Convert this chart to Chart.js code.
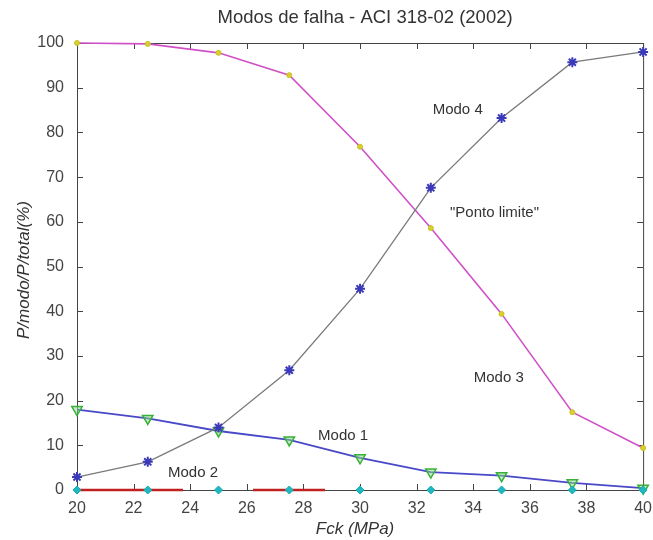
<!DOCTYPE html>
<html lang="pt">
  <head>
    <meta charset="UTF-8" />
    <title>Modos de falha - ACI 318-02 (2002)</title>
    <script src="https://cdn.jsdelivr.net/npm/chart.js"></script>
    <style>
      body {
        margin: 0;
        background: #fff;
      }
      #wrap {
        width: 653px;
        height: 540px;
      }
    </style>
  </head>
  <body>
    <div id="wrap"><canvas id="modos" width="653" height="540"></canvas></div>

    <script>
      // Fck (MPa) values
      const fck = [20, 22.5, 25, 27.5, 30, 32.5, 35, 37.5, 40];

      // P modo / P total (%)
      const modo1 = [18, 16, 13.2, 11.2, 7.2, 4, 3.2, 1.6, 0.4];
      const modo2 = [0, 0, 0, 0, 0, 0, 0, 0, 0];
      const modo3 = [100, 99.8, 97.8, 92.8, 76.8, 58.6, 39.4, 17.4, 9.4];
      const modo4 = [2.9, 6.3, 14, 26.8, 45, 67.6, 83.2, 95.7, 98];

      const xTicks = [20, 22, 24, 26, 28, 30, 32, 34, 36, 38, 40];
      const yTicks = [0, 10, 20, 30, 40, 50, 60, 70, 80, 90, 100];

      const FONT = "'Liberation Sans', Arial, sans-serif";
      const pts = (ys) => fck.map((x, i) => ({ x: x, y: ys[i] }));

      // text notes placed in data coordinates
      const notes = [
        { text: "Modo 4", x: 33.45, y: 85 },
        { text: '"Ponto limite"', x: 34.75, y: 62 },
        { text: "Modo 3", x: 34.9, y: 25 },
        { text: "Modo 1", x: 29.4, y: 12.1 },
        { text: "Modo 2", x: 24.1, y: 3.8 },
      ];

      // box around the axes, inward ticks, title and axis labels
      const frame = {
        id: "frame",
        beforeDatasetsDraw(chart) {
          const { ctx, chartArea: a, scales } = chart;
          ctx.save();
          ctx.strokeStyle = "#444";
          ctx.lineWidth = 1;
          ctx.strokeRect(a.left + 0.5, a.top + 0.5, a.right - a.left, a.bottom - a.top);
          ctx.beginPath();
          xTicks.forEach((v) => {
            const px = Math.round(scales.x.getPixelForValue(v)) + 0.5;
            ctx.moveTo(px, a.bottom);
            ctx.lineTo(px, a.bottom - 6);
            ctx.moveTo(px, a.top);
            ctx.lineTo(px, a.top + 6);
          });
          yTicks.forEach((v) => {
            const py = Math.round(scales.y.getPixelForValue(v)) + 0.5;
            ctx.moveTo(a.left, py);
            ctx.lineTo(a.left + 6, py);
            ctx.moveTo(a.right, py);
            ctx.lineTo(a.right - 6, py);
          });
          ctx.stroke();
          ctx.restore();
        },
        afterDraw(chart) {
          const { ctx, chartArea: a, scales } = chart;
          ctx.save();
          ctx.fillStyle = "#333";
          ctx.textAlign = "center";
          ctx.textBaseline = "middle";
          ctx.font = "18.5px " + FONT;
          ctx.fillText("Modos de falha - ACI 318-02 (2002)", (a.left + a.right) / 2 + 5, 18);

          ctx.font = "italic 17px " + FONT;
          ctx.fillText("Fck (MPa)", (a.left + a.right) / 2 - 5, 529);

          ctx.save();
          ctx.translate(24, 270);
          ctx.rotate(-Math.PI / 2);
          ctx.fillText("P/modo/P/total(%)", 0, 0);
          ctx.restore();

          ctx.font = "15px " + FONT;
          notes.forEach((n) => {
            ctx.fillText(n.text, scales.x.getPixelForValue(n.x), scales.y.getPixelForValue(n.y));
          });
          ctx.restore();
        },
      };

      new Chart(document.getElementById("modos"), {
        type: "line",
        data: {
          datasets: [
            {
              label: "Modo 4",
              data: pts(modo4),
              borderColor: "#7a7a7a",
              borderWidth: 1.3,
              pointStyle: "star",
              pointRadius: 5,
              pointBorderWidth: 2,
              pointBorderColor: "#3a3ab8",
              pointBackgroundColor: "#3a3ab8",
            },
            {
              label: "Modo 3",
              data: pts(modo3),
              borderColor: "#d050c8",
              borderWidth: 1.6,
              pointStyle: "circle",
              pointRadius: 2.5,
              pointBorderWidth: 1,
              pointBorderColor: "#c8c020",
              pointBackgroundColor: "#d8d030",
            },
            {
              label: "Modo 2",
              data: pts(modo2),
              borderColor: "#c02020",
              borderWidth: 2.5,
              borderDash: [106, 70, 72, 1000],
              pointStyle: "rectRot",
              pointRadius: 4,
              pointBorderWidth: 1,
              pointBorderColor: "#14a8b0",
              pointBackgroundColor: "#20b8c0",
            },
            {
              label: "Modo 1",
              data: pts(modo1),
              borderColor: "#4848c8",
              borderWidth: 1.8,
              pointStyle: "triangle",
              pointRotation: 180,
              pointRadius: 6,
              pointBorderWidth: 1.5,
              pointBorderColor: "#38b038",
              pointBackgroundColor: "rgba(140, 220, 140, 0.5)",
            },
          ],
        },
        options: {
          responsive: false,
          animation: false,
          clip: false,
          layout: { padding: { top: 43, right: 6, left: 0, bottom: 0 } },
          plugins: {
            legend: { display: false },
            title: { display: false },
            tooltip: { enabled: false },
          },
          scales: {
            x: {
              type: "linear",
              min: 20,
              max: 40,
              afterFit: (s) => {
                s.height = 50;
              },
              afterBuildTicks: (s) => {
                s.ticks = xTicks.map((v) => ({ value: v }));
              },
              grid: { display: false },
              border: { display: false },
              ticks: {
                color: "#444",
                padding: 1,
                maxRotation: 0,
                font: { family: FONT, size: 16 },
              },
            },
            y: {
              min: 0,
              max: 100,
              afterFit: (s) => {
                s.width = 77;
              },
              afterBuildTicks: (s) => {
                s.ticks = yTicks.map((v) => ({ value: v }));
              },
              grid: { display: false },
              border: { display: false },
              ticks: {
                color: "#444",
                padding: 5,
                font: { family: FONT, size: 16 },
              },
            },
          },
        },
        plugins: [frame],
      });
    </script>
  </body>
</html>
